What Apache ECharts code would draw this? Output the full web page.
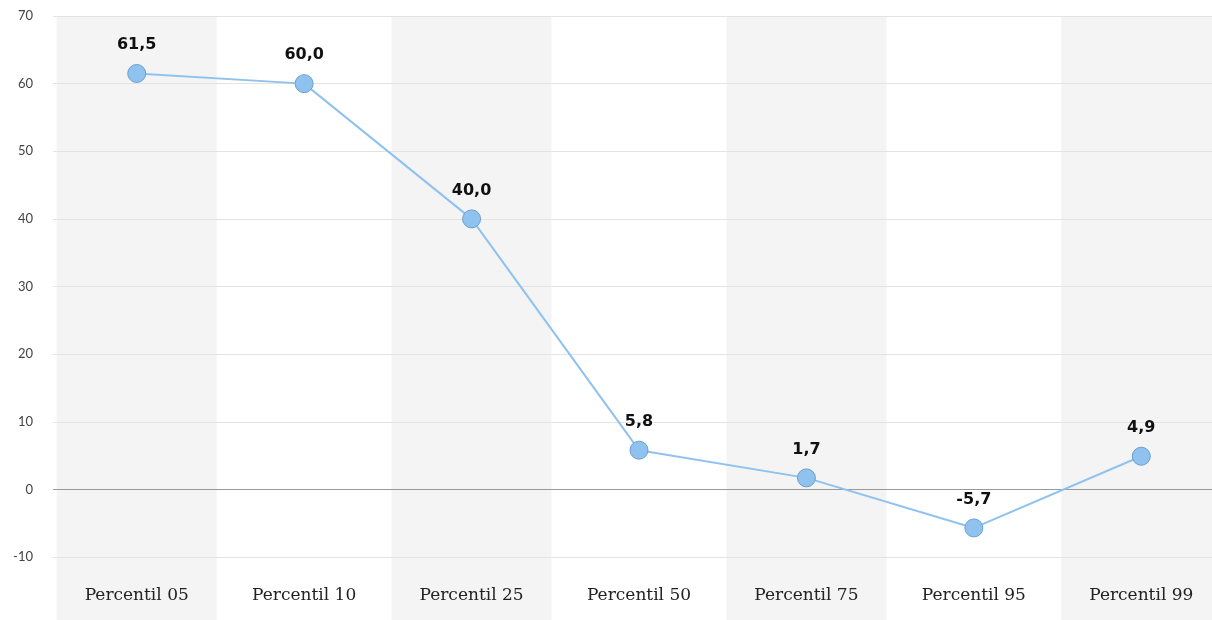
<!DOCTYPE html>
<html>
<head>
<meta charset="utf-8">
<script src="https://cdn.jsdelivr.net/npm/echarts@6/dist/echarts.min.js"></script>
<style>
  html, body { margin: 0; padding: 0; background: #fff; }
  #chart { width: 1212px; height: 620px; }
</style>
</head>
<body>
<div id="chart"></div>
<script>
// Percentile categories and their values
const categories = ['Percentil 05', 'Percentil 10', 'Percentil 25', 'Percentil 50', 'Percentil 75', 'Percentil 95', 'Percentil 99'];
const values = [61.5, 60.0, 40.0, 5.8, 1.7, -5.7, 4.9];
// Alternating shaded columns behind the odd categories
const bandFlags = [1, null, 1, null, 1, null, 1];

const yMin = -10, yMax = 70, yStep = 10;

const chart = echarts.init(document.getElementById('chart'), null, { renderer: 'canvas' });

const fmt = v => v.toFixed(1).replace('.', ',');

// The plot runs a little past the right edge of the canvas
chart.setOption({
  animation: false,
  grid: [
    { left: 53, width: 1172, top: 16, bottom: 63, outerBoundsMode: 'none', containLabel: false },
    { left: 53, width: 1172, top: 16, bottom: 0, outerBoundsMode: 'none', containLabel: false }
  ],
  xAxis: [
    {
      type: 'category', data: categories, gridIndex: 0, boundaryGap: true,
      axisLine: { show: false }, axisTick: { show: false },
      axisLabel: { margin: 30, color: '#222', fontSize: 17, fontFamily: 'DejaVu Serif, serif' },
      z: 3
    },
    {
      type: 'category', data: categories, gridIndex: 1, show: false
    }
  ],
  yAxis: [
    {
      type: 'value', gridIndex: 0, min: yMin, max: yMax, interval: yStep,
      axisLine: { show: false }, axisTick: { show: false },
      axisLabel: { margin: 20, color: '#444', fontSize: 13, fontFamily: 'Lato' },
      splitLine: { lineStyle: { color: '#e3e3e3', width: 1 } },
      z: 3
    },
    {
      type: 'value', gridIndex: 1, min: 0, max: 1, show: false
    }
  ],
  series: [
    {
      type: 'bar', xAxisIndex: 1, yAxisIndex: 1, data: bandFlags,
      barWidth: 160, silent: true, z: 0,
      itemStyle: { color: '#f4f4f4' }
    },
    {
      type: 'line', xAxisIndex: 0, yAxisIndex: 0, data: values, z: 5,
      symbol: 'circle', symbolSize: 18,
      lineStyle: { color: '#8fc2ef', width: 2 },
      itemStyle: { color: '#8fc2ef', borderColor: '#6d9fcc', borderWidth: 1 },
      label: {
        show: true, position: 'top', distance: 11,
        formatter: p => fmt(p.value),
        color: '#111', fontSize: 16, fontWeight: 'bold', fontFamily: 'DejaVu Sans'
      },
      markLine: {
        silent: true, symbol: 'none', label: { show: false },
        lineStyle: { color: '#999', width: 1, type: 'solid' },
        data: [{ yAxis: 0 }]
      }
    }
  ]
});
</script>
</body>
</html>
